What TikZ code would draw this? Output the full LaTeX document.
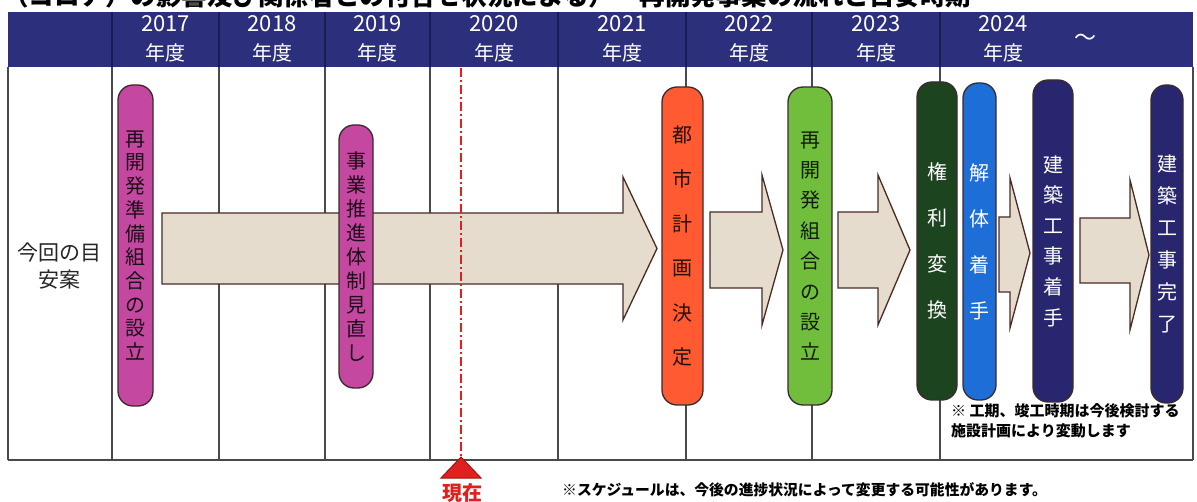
\documentclass[tikz,border=0pt]{standalone}
\usepackage{fontspec}
\setmainfont{Noto Sans CJK JP}
\definecolor{hdr}{HTML}{2C2F7C}
\definecolor{hdrline}{HTML}{1A1C50}
\definecolor{gridc}{HTML}{4A4A4A}
\definecolor{mag}{HTML}{C448A0}
\definecolor{orng}{HTML}{FF5A32}
\definecolor{grn}{HTML}{70BE3C}
\definecolor{dkgrn}{HTML}{1C441E}
\definecolor{blu}{HTML}{1E6ED7}
\definecolor{navy}{HTML}{28266E}
\definecolor{arrfill}{HTML}{E6DCCE}
\definecolor{arrline}{HTML}{4A2A22}
\definecolor{outl}{HTML}{3A2A30}
\definecolor{redc}{HTML}{E0201E}
\begin{document}
\begin{tikzpicture}[x=1pt,y=-1pt,
  gridline/.style={draw=gridc, line width=1.4pt},
  hdrdiv/.style={draw=hdrline, line width=1.2pt},
  pill/.style={draw=outl, line width=1.3pt, rounded corners=15pt, align=center, inner sep=0pt},
  yr/.style={text=white, font=\fontsize{22}{24}\selectfont},
  nendo/.style={text=white, font=\fontsize{20}{22}\selectfont},
  blockarrow/.style={draw=arrline, fill=arrfill, line width=1.3pt, line join=miter}]
\useasboundingbox (0,0) rectangle (1197,502);
\fill[white] (0,0) rectangle (1197,502);
% clipped title
\node[anchor=base west, inner sep=0pt, font=\fontsize{25.5}{27}\selectfont\bfseries] (title) at (3,6) {（コロナ）の影響及び関係者との付合せ状況による）　再開発事業の流れと目安時期};
% header band
\fill[hdr] (8,12) rectangle (1193,67);
\foreach \x in {112,219,325,430,558,686,812,940} \draw[hdrdiv] (\x,12) -- (\x,67);
\node[yr] (y17) at (165.5,24) {2017};
\node[yr] (y18) at (272,24) {2018};
\node[yr] (y19) at (377.5,24) {2019};
\node[yr] (y20) at (494,24) {2020};
\node[yr] (y21) at (622,24) {2021};
\node[yr] (y22) at (749,24) {2022};
\node[yr] (y23) at (876,24) {2023};
\node[yr] (y24) at (1003,24) {2024};
\node[nendo] (n17) at (165.5,53) {年度};
\node[nendo] (n18) at (272,53) {年度};
\node[nendo] (n19) at (377.5,53) {年度};
\node[nendo] (n20) at (494,53) {年度};
\node[nendo] (n21) at (622,53) {年度};
\node[nendo] (n22) at (749,53) {年度};
\node[nendo] (n23) at (876,53) {年度};
\node[nendo] (n24) at (1003,53) {年度};
\node[yr] (tilde) at (1085,40) {～};
% body grid
\foreach \x in {8,112,219,325,430,558,686,812,940,1193} \draw[gridline] (\x,67) -- (\x,460);
\draw[gridline] (8,460) -- (1193,460);
% left label
\node[align=center, font=\fontsize{21}{27}\selectfont, text=black!85] (lbl) at (59,266) {今回の目\\安案};
% big arrow
\draw[blockarrow] (162,213) -- (623,213) -- (623,177) -- (657,248.5) -- (623,320) -- (623,284) -- (162,284) -- cycle;
% pills
\node[pill, fill=mag, minimum width=35pt, minimum height=321pt, text=black!85!mag, font=\fontsize{20}{23.7}\selectfont] (p1) at (135.5,245.5) {再\\開\\発\\準\\備\\組\\合\\の\\設\\立};
\node[pill, fill=mag, minimum width=34pt, minimum height=263pt, text=black!85!mag, font=\fontsize{20}{24}\selectfont] (p2) at (356,256.5) {事\\業\\推\\進\\体\\制\\見\\直\\し};
% current line
\draw[redc, line width=2pt, dash pattern=on 9pt off 3pt on 2pt off 3pt] (461,68) -- (461,457);
\draw[fill=redc, draw=redc!70!black, line width=1pt] (461,457) -- (481,478) -- (441,478) -- cycle;
\node[text=redc, font=\fontsize{20}{22}\selectfont\bfseries] (now) at (462,493) {現在};
% arrows 2-5
\draw[blockarrow] (710,212) -- (762,212) -- (762,175) -- (783,250) -- (762,325) -- (762,288) -- (710,288) -- cycle;
\draw[blockarrow] (838,212) -- (878,212) -- (878,175) -- (910,250) -- (878,325) -- (878,288) -- (838,288) -- cycle;
\draw[blockarrow] (999,217) -- (1010,217) -- (1010,178) -- (1030,253) -- (1010,328) -- (1010,292) -- (999,292) -- cycle;
\draw[blockarrow] (1080,218) -- (1130,218) -- (1130,180) -- (1149,255) -- (1130,330) -- (1130,283) -- (1080,283) -- cycle;
\node[pill, fill=orng, minimum width=41pt, minimum height=318pt, text=black!85!orng, font=\fontsize{20}{44.4}\selectfont] (p3) at (682.5,246) {都\\市\\計\\画\\決\\定};
\node[pill, fill=grn, minimum width=44pt, minimum height=318pt, text=black!85!grn, font=\fontsize{20}{30.4}\selectfont] (p4) at (810,246) {再\\開\\発\\組\\合\\の\\設\\立};
\node[pill, fill=dkgrn, minimum width=40pt, minimum height=318pt, text=white, font=\fontsize{20}{46}\selectfont] (p5) at (937,241) {権\\利\\変\\換};
\node[pill, fill=blu, minimum width=33pt, minimum height=317pt, text=white, font=\fontsize{20}{46}\selectfont] (p6) at (979.5,241.5) {解\\体\\着\\手};
\node[pill, fill=navy, minimum width=40pt, minimum height=322pt, text=white, font=\fontsize{20}{30.6}\selectfont] (p7) at (1053,241) {建\\築\\工\\事\\着\\手};
\node[pill, fill=navy, minimum width=32pt, minimum height=318pt, text=white, font=\fontsize{20}{32}\selectfont] (p8) at (1167,244) {建\\築\\工\\事\\完\\了};
% notes
\node[anchor=west, align=left, inner sep=0pt, font=\fontsize{15}{20}\selectfont\bfseries] (note1) at (951,421) {※ 工期、竣工時期は今後検討する\\施設計画により変動します};
\node[anchor=west, inner sep=0pt, font=\fontsize{14.8}{16}\selectfont\bfseries] (note2) at (562,490) {※スケジュールは、今後の進捗状況によって変更する可能性があります。};
\end{tikzpicture}
\end{document}
